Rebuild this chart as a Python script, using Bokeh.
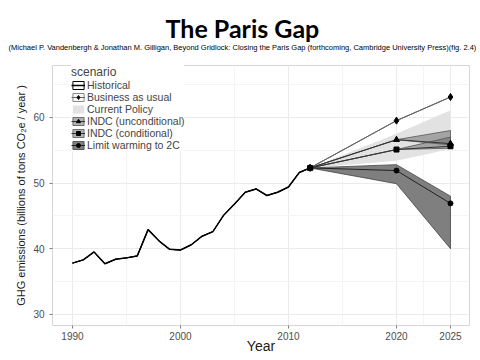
from bokeh.plotting import figure
from bokeh.models import FixedTicker, Legend, LegendItem, Title, Range1d
from bokeh.embed import file_html
from bokeh.resources import INLINE

# ---- data ----
hist_years = list(range(1990, 2013))
hist_values = [37.8, 38.3, 39.5, 37.7, 38.4, 38.6, 38.9, 42.9, 41.2, 39.9, 39.8,
               40.6, 41.9, 42.6, 45.1, 46.8, 48.6, 49.1, 48.1, 48.6, 49.4, 51.6, 52.3]

proj_years = [2012, 2020, 2025]
bau = [52.3, 59.5, 63.1]
current_low = [52.3, 53.4, 55.2]
current_high = [52.3, 57.5, 61.1]
indc_uncond = [52.3, 56.6, 56.0]
indc_uncond_low = [52.3, 56.6, 55.8]
indc_uncond_high = [52.3, 56.6, 58.0]
indc_cond = [52.3, 55.1, 55.6]
indc_cond_low = [52.3, 55.1, 55.3]
indc_cond_high = [52.3, 55.1, 57.0]
limit2c = [52.3, 51.9, 46.9]
limit2c_low = [52.3, 49.9, 40.0]
limit2c_high = [52.3, 52.8, 48.0]

x_ticks = [1990, 2000, 2010, 2020, 2025]
x_minor = [1995, 2005, 2015, 2022.5]
y_ticks = [30, 40, 50, 60]
y_minor = [35, 45, 55, 65]

title_text = "The Paris Gap"
subtitle_text = ("(Michael P. Vandenbergh & Jonathan M. Gilligan, Beyond Gridlock: Closing the Paris Gap "
                 "(forthcoming, Cambridge University Press)(fig. 2.4)")


def band(xs, lo, hi):
    return xs + xs[::-1], hi + lo[::-1]


p = figure(width=480, height=360, x_range=Range1d(1988.15, 2026.76), y_range=Range1d(28.3, 67.9),
           output_backend="svg", toolbar_location=None,
           min_border_left=52, min_border_right=11, min_border_top=65, min_border_bottom=35)
p.title.visible = False
p.background_fill_color = "white"
p.border_fill_color = "white"
p.outline_line_color = "#d6d6d6"
p.outline_line_width = 1

# axes
p.xaxis.ticker = FixedTicker(ticks=x_ticks, minor_ticks=x_minor)
p.yaxis.ticker = FixedTicker(ticks=y_ticks, minor_ticks=y_minor)
for ax in (p.xaxis, p.yaxis):
    ax.axis_line_color = None
    ax.major_tick_line_color = "#7f7f7f"
    ax.minor_tick_line_color = None
    ax.major_tick_in = 0
    ax.major_tick_out = 3
    ax.major_label_text_font = "Liberation Sans"
    ax.major_label_text_font_size = "10px"
    ax.major_label_text_color = "#4d4d4d"
    ax.axis_label_text_font = "Liberation Sans"
    ax.axis_label_text_font_style = "normal"
    ax.axis_label_text_color = "#1a1a1a"
p.xaxis.major_label_standoff = 2
p.yaxis.major_label_standoff = 4
p.xaxis.axis_label = "Year"
p.xaxis.axis_label_text_font_size = "14px"
p.xaxis.axis_label_standoff = -5
p.yaxis.axis_label = "GHG emissions (billions of tons CO\u2082e / year )"
p.yaxis.axis_label_text_font_size = "11px"
p.yaxis.axis_label_standoff = 3

p.xgrid.grid_line_color = "#ebebeb"
p.ygrid.grid_line_color = "#ebebeb"
p.xgrid.minor_grid_line_color = "#f4f4f4"
p.ygrid.minor_grid_line_color = "#f4f4f4"

# bands
bx, by = band(proj_years, current_low, current_high)
cp_band = p.patch(bx, by, fill_color="#e2e2e2", fill_alpha=1.0, line_color=None)

bx, by = band(proj_years, indc_uncond_low, indc_uncond_high)
iu_band = p.patch(bx, by, fill_color="#666666", fill_alpha=0.5, line_color="#555555", line_width=0.8)

bx, by = band(proj_years, indc_cond_low, indc_cond_high)
ic_band = p.patch(bx, by, fill_color="#666666", fill_alpha=0.5, line_color="#555555", line_width=0.8)

bx, by = band(proj_years, limit2c_low, limit2c_high)
l2_band = p.patch(bx, by, fill_color="#7f7f7f", fill_alpha=1.0, line_color="#444444", line_width=0.8)

bx, by = band(hist_years, hist_values, hist_values)
h_band = p.patch(bx, by, fill_color="white", fill_alpha=1.0, line_color="black", line_width=1)

bx, by = band(proj_years, bau, bau)
b_band = p.patch(bx, by, fill_color="#f7f7f7", fill_alpha=1.0, line_color="#8a8a8a", line_width=1)

# lines
h_line = p.line(hist_years, hist_values, line_color="black", line_width=1.5)
b_line = p.line(proj_years, bau, line_color="#666666", line_width=1)
iu_line = p.line(proj_years, indc_uncond, line_color="#333333", line_width=1)
ic_line = p.line(proj_years, indc_cond, line_color="#333333", line_width=1)
l2_line = p.line(proj_years, limit2c, line_color="#222222", line_width=1)

# markers
b_pts = p.scatter(proj_years, bau, marker="diamond", size=7, color="black")
iu_pts = p.scatter(proj_years, indc_uncond, marker="triangle", size=6, color="black")
ic_pts = p.scatter(proj_years, indc_cond, marker="square", size=5, color="black")
l2_pts = p.scatter(proj_years, limit2c, marker="circle", size=5, color="black")

legend = Legend(items=[
    LegendItem(label="Historical", renderers=[h_band, h_line]),
    LegendItem(label="Business as usual", renderers=[b_band, b_line, b_pts]),
    LegendItem(label="Current Policy", renderers=[cp_band]),
    LegendItem(label="INDC (unconditional)", renderers=[iu_band, iu_line, iu_pts]),
    LegendItem(label="INDC (conditional)", renderers=[ic_band, ic_line, ic_pts]),
    LegendItem(label="Limit warming to 2C", renderers=[l2_band, l2_line, l2_pts]),
], location=(19, 174))
legend.title = "scenario"
legend.title_text_font = "Liberation Sans"
legend.title_text_font_size = "12px"
legend.title_text_font_style = "normal"
legend.title_standoff = 0
legend.label_text_font = "Liberation Sans"
legend.label_text_font_size = "10.5px"
legend.label_height = 10
legend.glyph_height = 10
legend.glyph_width = 14
legend.label_standoff = 2
legend.spacing = 0
legend.padding = 1
legend.margin = 0
legend.border_line_color = None
legend.background_fill_color = "white"
legend.background_fill_alpha = 1.0
p.add_layout(legend)

sub = Title(text=subtitle_text, align="left", offset=-44, standoff=28,
            text_font="Liberation Sans", text_font_size="7.5px", text_font_style="normal",
            text_color="black")
p.add_layout(sub, "above")
ttl = Title(text=title_text, align="left", offset=113, standoff=-32,
            text_font="Lato", text_font_size="25px", text_font_style="bold", text_color="black")
p.add_layout(ttl, "above")

open("out.html", "w").write(file_html(p, INLINE))
